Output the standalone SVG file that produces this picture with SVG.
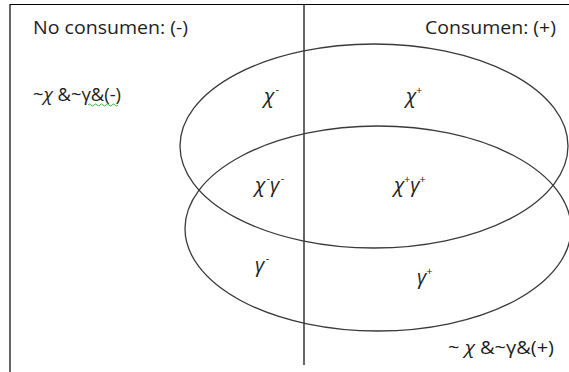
<svg xmlns="http://www.w3.org/2000/svg" width="569" height="372" viewBox="0 0 569 372">
<style>
.ln{stroke:#000;stroke-width:1.2;fill:none}
.el{stroke:#3a3a3a;stroke-width:1.3;fill:none}
.t{font-family:"Open Sans","Liberation Sans",Arial,sans-serif;font-size:17.5px;fill:#1e1e1e}
.g{font-family:"Open Sans","Liberation Sans",Arial,sans-serif;font-size:20px;font-style:italic;fill:#1e1e1e}
.s{font-size:11px;font-style:normal}
.wv{stroke:#3cb043;stroke-width:1;fill:none}
</style>
<rect width="569" height="372" fill="#fff"/>
<g id="frame">
<line class="ln" x1="10" y1="4.5" x2="569" y2="4.5"/>
<line class="ln" x1="10" y1="4" x2="10" y2="372"/>
<line class="ln" x1="304" y1="4" x2="304" y2="365"/>
</g>
<g id="set-chi"><ellipse class="el" cx="374" cy="146" rx="194" ry="102"/></g>
<g id="set-gamma"><ellipse class="el" cx="378" cy="228.5" rx="193" ry="102.5"/></g>
<g id="labels">
<text class="t" x="33" y="34" textLength="155" lengthAdjust="spacingAndGlyphs">No consumen: (-)</text>
<text class="t" x="425" y="34" textLength="131" lengthAdjust="spacingAndGlyphs">Consumen: (+)</text>
<text class="t" x="33" y="101" textLength="88" lengthAdjust="spacingAndGlyphs">~<tspan font-style="italic">χ</tspan> &amp;~γ&amp;(-)</text>
<path class="wv" d="M88 105 q1.5 -2 3 0 t3 0 t3 0 t3 0 t3 0 t3 0 t3 0 t3 0 t3 0 t3 0"/>
<text class="g" x="264" y="103">χ<tspan class="s" dx="1.5" dy="-10">-</tspan></text>
<text class="g" x="406" y="103">χ<tspan class="s" dy="-9">+</tspan></text>
<text class="g" x="255" y="192">χ<tspan class="s" dx="1.5" dy="-10">-</tspan><tspan dy="10">γ</tspan><tspan class="s" dx="1.5" dy="-10">-</tspan></text>
<text class="g" x="394" y="192">χ<tspan class="s" dy="-9">+</tspan><tspan dy="9">γ</tspan><tspan class="s" dy="-9">+</tspan></text>
<text class="g" x="255" y="272">γ<tspan class="s" dx="1.5" dy="-10">-</tspan></text>
<text class="g" x="417" y="284">γ<tspan class="s" dy="-9">+</tspan></text>
<text class="t" x="448" y="354" textLength="106" lengthAdjust="spacingAndGlyphs">~ <tspan font-style="italic">χ</tspan> &amp;~γ&amp;(+)</text>
</g>
</svg>
